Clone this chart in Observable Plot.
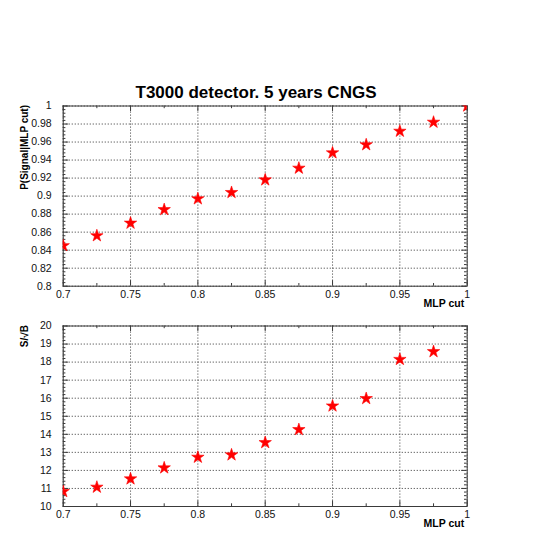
<!DOCTYPE html>
<html>
<head>
<meta charset="utf-8">
<script src="https://cdn.jsdelivr.net/npm/d3@7"></script>
<script src="https://cdn.jsdelivr.net/npm/@observablehq/plot@0.6"></script>
<style>
  html, body { margin: 0; padding: 0; background: #fff; }
  #wrap { position: relative; width: 545px; height: 545px; overflow: hidden; font-family: "Liberation Sans", Arial, sans-serif; }
  #title { position: absolute; left: 0; width: 512px; top: 83.5px; text-align: center; font-weight: bold; font-size: 17px; line-height: 17px; color: #000; }
  .panel { position: absolute; left: 0; }
</style>
</head>
<body>
<div id="wrap">
  <div id="title">T3000 detector. 5 years CNGS</div>
  <div id="top" class="panel" style="top:80px"></div>
  <div id="bottom" class="panel" style="top:320px"></div>
</div>
<script>
// ---- data ----
const mlpCut = [0.7, 0.725, 0.75, 0.775, 0.8, 0.825, 0.85, 0.875, 0.9, 0.925, 0.95, 0.975, 1.0];
const pSignal = [0.845, 0.856, 0.870, 0.885, 0.897, 0.904, 0.918, 0.931, 0.948, 0.957, 0.972, 0.982, 1.0];
const mlpCutSB = [0.7, 0.725, 0.75, 0.775, 0.8, 0.825, 0.85, 0.875, 0.9, 0.925, 0.95, 0.975];
const sOverSqrtB = [10.83, 11.07, 11.53, 12.14, 12.73, 12.86, 13.54, 14.26, 15.57, 15.98, 18.15, 18.58];

// ---- axis ticks / labels ----
const xTicks = [0.7, 0.75, 0.8, 0.85, 0.9, 0.95, 1];
const xTickLabels = ["0.7", "0.75", "0.8", "0.85", "0.9", "0.95", "1"];
const xMinorTicks = [0.725, 0.775, 0.825, 0.875, 0.925, 0.975];
const yTicksTop = [0.8, 0.82, 0.84, 0.86, 0.88, 0.9, 0.92, 0.94, 0.96, 0.98, 1];
const yTickLabelsTop = ["0.8", "0.82", "0.84", "0.86", "0.88", "0.9", "0.92", "0.94", "0.96", "0.98", "1"];
const yTicksBottom = [10, 11, 12, 13, 14, 15, 16, 17, 18, 19, 20];
const yTickLabelsBottom = ["10", "11", "12", "13", "14", "15", "16", "17", "18", "19", "20"];
const xLabel = "MLP cut";
const yLabelTop = "P(Signal|MLP cut)";
const yLabelBottom = "S/\u221AB";

const W = 545, ML = 62.7, MR = 78.3;
const FW = W - ML - MR;
const MAJ = 5.5, MIN = 2.7;
const GRID = "#555", FRAME = "#3a3a3a";

function minorY(major) {
  const out = [];
  for (let i = 0; i < major.length - 1; i++) {
    const a = major[i], b = major[i + 1];
    for (let k = 1; k < 5; k++) out.push(a + (b - a) * k / 5);
  }
  return out;
}

function panel({xs, ys, yTicks, yTickLabels, yLabel, height, marginTop, marginBottom}) {
  const FH = height - marginTop - marginBottom;
  const data = xs.map((x, i) => ({x, y: ys[i]}));
  const yMin = minorY(yTicks);
  const fmtX = d => xTickLabels[xTicks.findIndex(t => Math.abs(t - d) < 1e-9)];
  const fmtY = d => yTickLabels[yTicks.findIndex(t => Math.abs(t - d) < 1e-9)];
  return Plot.plot({
    width: W, height, marginLeft: ML, marginRight: MR, marginTop, marginBottom,
    style: {background: "transparent", overflow: "visible", fontFamily: "'Liberation Sans', Arial, sans-serif"},
    x: {domain: [0.7, 1], axis: null, label: null},
    y: {domain: [yTicks[0], yTicks[yTicks.length - 1]], axis: null, label: null},
    marks: [
      // grid
      Plot.ruleX(xTicks, {x: d => d, stroke: GRID, strokeDasharray: "1.2,1.8", strokeWidth: 1}),
      Plot.ruleY(yTicks, {y: d => d, stroke: GRID, strokeDasharray: "1.2,1.8", strokeWidth: 1}),
      // ticks (inside, all four sides)
      Plot.tickY(yTicks, {y: d => d, stroke: FRAME, insetRight: FW - MAJ}),
      Plot.tickY(yMin, {y: d => d, stroke: FRAME, insetRight: FW - MIN}),
      Plot.tickY(yTicks, {y: d => d, stroke: FRAME, insetLeft: FW - MAJ}),
      Plot.tickY(yMin, {y: d => d, stroke: FRAME, insetLeft: FW - MIN}),
      Plot.tickX(xTicks, {x: d => d, stroke: FRAME, insetTop: FH - MAJ}),
      Plot.tickX(xMinorTicks, {x: d => d, stroke: FRAME, insetTop: FH - MIN}),
      Plot.tickX(xTicks, {x: d => d, stroke: FRAME, insetBottom: FH - MAJ}),
      Plot.tickX(xMinorTicks, {x: d => d, stroke: FRAME, insetBottom: FH - MIN}),
      Plot.frame({stroke: FRAME, strokeWidth: 1}),
      // axes labels
      Plot.axisX(xTicks, {anchor: "bottom", label: null, tickSize: 0, tickPadding: 4.5, fontSize: 10.5, tickFormat: fmtX, fill: "#111"}),
      Plot.axisY(yTicks, {anchor: "left", label: null, tickSize: 0, tickPadding: 11.5, fontSize: 10.5, tickFormat: fmtY, fill: "#111"}),
      Plot.text([xLabel], {frameAnchor: "bottom-right", text: d => d, textAnchor: "end", dx: -3, dy: 20.5, fontSize: 10.5, fontWeight: "bold", fill: "#000"}),
      Plot.text([yLabel], {frameAnchor: "top-left", text: d => d, rotate: -90, textAnchor: "end", dx: -42, dy: -1, fontSize: 10, fontWeight: "bold", fill: "#000"}),
      // data
      Plot.dot(data, {x: "x", y: "y", symbol: "star", r: 3.9, fill: "#ff0000", stroke: "#ff0000", strokeWidth: 0.6, clip: true})
    ]
  });
}

document.getElementById("top").appendChild(panel({
  xs: mlpCut, ys: pSignal, yTicks: yTicksTop, yTickLabels: yTickLabelsTop, yLabel: yLabelTop,
  height: 240, marginTop: 25.5, marginBottom: 34.3
}));
document.getElementById("bottom").appendChild(panel({
  xs: mlpCutSB, ys: sOverSqrtB, yTicks: yTicksBottom, yTickLabels: yTickLabelsBottom, yLabel: yLabelBottom,
  height: 220, marginTop: 5.5, marginBottom: 34
}));
</script>
</body>
</html>
